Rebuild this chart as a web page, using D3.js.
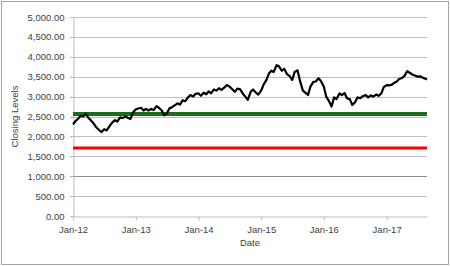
<!DOCTYPE html>
<html>
<head>
<meta charset="utf-8">
<script src="https://cdn.jsdelivr.net/npm/d3@7"></script>
<style>
  body { margin: 0; background: #fff; }
  svg { display: block; }
</style>
</head>
<body>
<script>
// chart size
const width = 450;
const height = 266;
const margin = { top: 17, right: 23, bottom: 50, left: 73 };

// closing levels (twice a month)
const dates = [
  "2012-01-01","2012-01-15","2012-02-01","2012-02-15","2012-03-01","2012-03-15","2012-04-01","2012-04-15",
  "2012-05-01","2012-05-15","2012-06-01","2012-06-15","2012-07-01","2012-07-15","2012-08-01","2012-08-15",
  "2012-09-01","2012-09-15","2012-10-01","2012-10-15","2012-11-01","2012-11-15","2012-12-01","2012-12-15",
  "2013-01-01","2013-01-15","2013-02-01","2013-02-15","2013-03-01","2013-03-15","2013-04-01","2013-04-15",
  "2013-05-01","2013-05-15","2013-06-01","2013-06-15","2013-07-01","2013-07-15","2013-08-01","2013-08-15",
  "2013-09-01","2013-09-15","2013-10-01","2013-10-15","2013-11-01","2013-11-15","2013-12-01","2013-12-15",
  "2014-01-01","2014-01-15","2014-02-01","2014-02-15","2014-03-01","2014-03-15","2014-04-01","2014-04-15",
  "2014-05-01","2014-05-15","2014-06-01","2014-06-15","2014-07-01","2014-07-15","2014-08-01","2014-08-15",
  "2014-09-01","2014-09-15","2014-10-01","2014-10-15","2014-11-01","2014-11-15","2014-12-01","2014-12-15",
  "2015-01-01","2015-01-15","2015-02-01","2015-02-15","2015-03-01","2015-03-15","2015-04-01","2015-04-15",
  "2015-05-01","2015-05-15","2015-06-01","2015-06-15","2015-07-01","2015-07-15","2015-08-01","2015-08-15",
  "2015-09-01","2015-09-15","2015-10-01","2015-10-15","2015-11-01","2015-11-15","2015-12-01","2015-12-15",
  "2016-01-01","2016-01-15","2016-02-01","2016-02-15","2016-03-01","2016-03-15","2016-04-01","2016-04-15",
  "2016-05-01","2016-05-15","2016-06-01","2016-06-15","2016-07-01","2016-07-15","2016-08-01","2016-08-15",
  "2016-09-01","2016-09-15","2016-10-01","2016-10-15","2016-11-01","2016-11-15","2016-12-01","2016-12-15",
  "2017-01-01","2017-01-15","2017-02-01","2017-02-15","2017-03-01","2017-03-15","2017-04-01","2017-04-15",
  "2017-05-01","2017-05-15","2017-06-01","2017-06-15","2017-07-01","2017-07-15","2017-08-01","2017-08-15",
  "2017-08-24"
];
const closing = [
  2300, 2380, 2450, 2520, 2500, 2570, 2460, 2400,
  2320, 2230, 2160, 2110, 2180, 2150, 2260, 2340,
  2410, 2370, 2480, 2460, 2500, 2470, 2440, 2600,
  2680, 2700, 2720, 2650, 2690, 2650, 2690, 2660,
  2760, 2720, 2650, 2530, 2580, 2700, 2740, 2780,
  2830, 2800, 2910, 2880, 2980, 3040, 3000, 3070,
  3080, 3020, 3100, 3060, 3130, 3080, 3180, 3150,
  3210, 3170, 3230, 3290, 3250, 3190, 3120, 3200,
  3180, 3080, 3000, 2920, 3120, 3180, 3100, 3050,
  3150, 3300, 3420, 3580, 3650, 3620, 3790, 3760,
  3650, 3700, 3560, 3520, 3420, 3620, 3660, 3400,
  3150, 3100, 3040, 3250, 3370, 3380, 3460, 3390,
  3250, 3000, 2880, 2750, 2980, 2940, 3080, 3040,
  3090, 2960, 2930, 2790, 2860, 2980, 2960, 3010,
  3040, 2980, 3030, 3000, 3050, 3020, 3080, 3240,
  3290, 3280, 3300, 3350, 3380, 3440, 3470, 3520,
  3640, 3600, 3550, 3530, 3500, 3510, 3470, 3450,
  3430
];

// reference levels (horizontal lines)
const greenLevel = 2560;
const redLevel = 1710;

// axis settings
const xStart = "2012-01-01";
const xEnd = "2017-08-24";
const yTicks = [0, 500, 1000, 1500, 2000, 2500, 3000, 3500, 4000, 4500, 5000];

const parse = d3.timeParse("%Y-%m-%d");
const series = dates.map((d, i) => ({ date: parse(d), value: closing[i] }));

const textColor = "#404040";

const svg = d3.select("body").append("svg")
  .attr("width", width)
  .attr("height", height)
  .style("font-family", "'Liberation Sans', Arial, sans-serif");

// outer frame
svg.append("rect")
  .attr("x", 1.5).attr("y", 1.5)
  .attr("width", width - 3).attr("height", height - 3)
  .attr("fill", "#fff")
  .attr("stroke", "#a6a6a6");

const x = d3.scaleTime()
  .domain([parse(xStart), parse(xEnd)])
  .range([margin.left, width - margin.right]);

const y = d3.scaleLinear()
  .domain([0, 5000])
  .range([height - margin.bottom, margin.top]);

// grid lines
svg.append("g")
  .selectAll("line")
  .data(yTicks.filter(d => d > 0))
  .join("line")
  .attr("x1", margin.left - 3)
  .attr("x2", width - margin.right)
  .attr("y1", d => Math.round(y(d)) + 0.5)
  .attr("y2", d => Math.round(y(d)) + 0.5)
  .attr("stroke", d => d === 1000 ? "#8c8c8c" : "#bdbdbd");

// y axis
svg.append("g")
  .attr("transform", `translate(${margin.left + 0.5},0)`)
  .call(d3.axisLeft(y).tickValues(yTicks).tickFormat(d3.format(",.2f")).tickSize(3).tickPadding(6))
  .call(g => g.selectAll("path, line").attr("stroke", "#bdbdbd"))
  .call(g => g.selectAll("text").attr("fill", textColor).style("font-size", "9.5px"));

// x axis
svg.append("g")
  .attr("transform", `translate(0,${Math.round(y(0)) + 0.5})`)
  .call(d3.axisBottom(x).ticks(d3.timeYear.every(1)).tickFormat(d3.timeFormat("%b-%y")).tickSize(4).tickSizeOuter(0).tickPadding(6))
  .call(g => g.selectAll("path, line").attr("stroke", "#bdbdbd"))
  .call(g => g.selectAll("text").attr("fill", textColor).style("font-size", "9.5px"));

// reference lines
svg.append("line")
  .attr("x1", margin.left).attr("x2", width - margin.right)
  .attr("y1", y(greenLevel)).attr("y2", y(greenLevel))
  .attr("stroke", "#1b6f1b").attr("stroke-width", 4);

svg.append("line")
  .attr("x1", margin.left).attr("x2", width - margin.right)
  .attr("y1", y(redLevel)).attr("y2", y(redLevel))
  .attr("stroke", "#ff0000").attr("stroke-width", 3);

// closing levels line
svg.append("path")
  .datum(series)
  .attr("fill", "none")
  .attr("stroke", "#000")
  .attr("stroke-width", 2.2)
  .attr("stroke-linejoin", "round")
  .attr("d", d3.line().x(d => x(d.date)).y(d => y(d.value)));

// axis titles
svg.append("text")
  .attr("x", (margin.left + width - margin.right) / 2)
  .attr("y", 246)
  .attr("text-anchor", "middle")
  .attr("fill", textColor)
  .style("font-size", "9.5px")
  .text("Date");

svg.append("text")
  .attr("transform", `translate(18,${(margin.top + height - margin.bottom) / 2}) rotate(-90)`)
  .attr("text-anchor", "middle")
  .attr("fill", textColor)
  .style("font-size", "9.5px")
  .text("Closing Levels");
</script>
</body>
</html>
